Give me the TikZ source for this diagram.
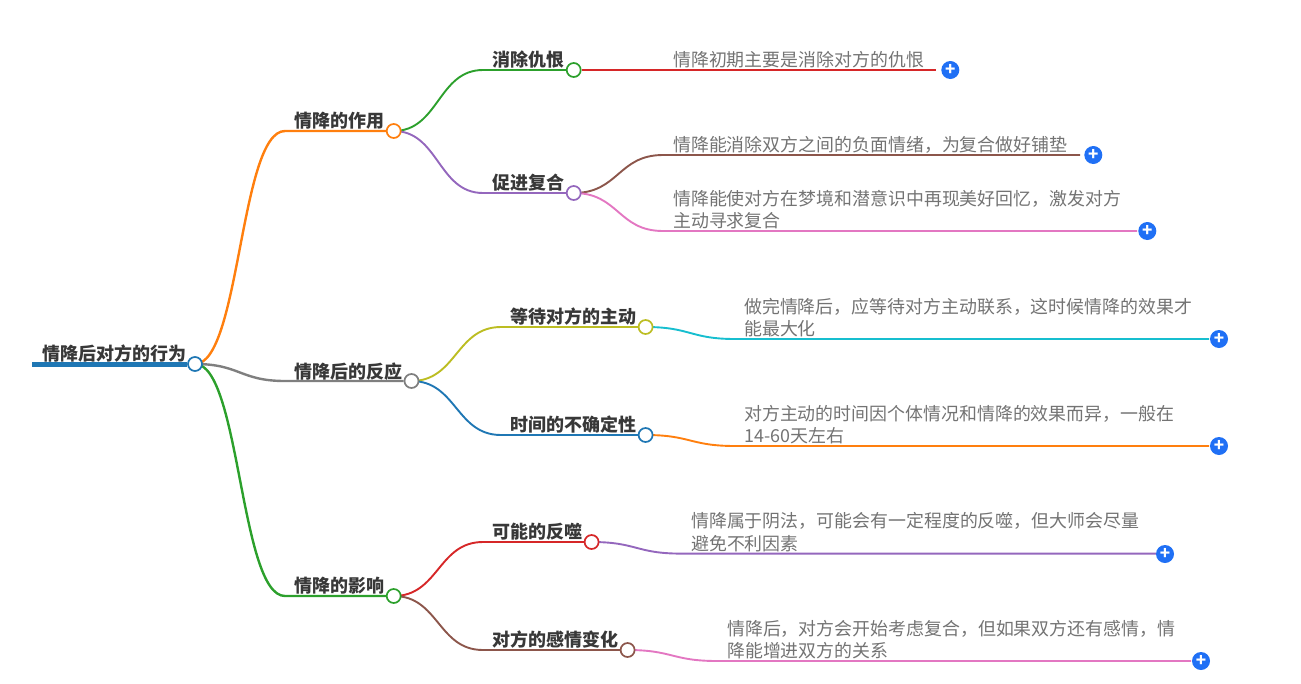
\documentclass[tikz,border=0pt]{standalone}
\usepackage{fontspec}
\usetikzlibrary{backgrounds}
\setmainfont{Noto Sans CJK SC}
\definecolor{mblue}{HTML}{1F77B4}
\definecolor{morange}{HTML}{FF7F0E}
\definecolor{mgreen}{HTML}{2CA02C}
\definecolor{mred}{HTML}{D62728}
\definecolor{mpurple}{HTML}{9467BD}
\definecolor{mbrown}{HTML}{8C564B}
\definecolor{mpink}{HTML}{E377C2}
\definecolor{mgray}{HTML}{7F7F7F}
\definecolor{molive}{HTML}{BCBD22}
\definecolor{mcyan}{HTML}{17BECF}
\definecolor{btnblue}{HTML}{2070F5}
\tikzset{
	dot/.style={circle,draw=#1,fill=white,line width=1.7pt,minimum size=14pt,inner sep=0pt},
	topic/.style={anchor=base west,inner sep=0pt,font=\fontsize{18}{18}\selectfont\bfseries,text=black!78},
	leaf/.style={anchor=south west,inner sep=0pt,align=left,font=\fontsize{17.92}{22.5}\selectfont,text=black!55},
	btn/.style={circle,fill=btnblue,minimum size=18pt,inner sep=0pt,text=white,font=\fontsize{17}{17}\selectfont\bfseries},
	link/.style={line width=2.4pt},
	twig/.style={line width=1.9pt}
}
\begin{document}
\begin{tikzpicture}[x=1pt,y=-1pt]
		\useasboundingbox (0,0) rectangle (1301,683);
		\coordinate (start) at (32,364);
		\node[dot=mblue] (root) at (195,364) {};
		\node[dot=morange] (role) at (393.7,131) {};
		\node[dot=mgray] (react) at (411.5,381) {};
		\node[dot=mgreen] (effect) at (393.7,596) {};
		\node[dot=mgreen] (hate) at (573.7,70) {};
		\node[dot=mpurple] (reunion) at (573.7,193) {};
		\node[dot=molive] (wait) at (645.6,327) {};
		\node[dot=mblue] (time) at (645.6,435) {};
		\node[dot=mred] (backlash) at (591.6,542) {};
		\node[dot=mbrown] (feeling) at (627.6,650) {};
		\coordinate (roleb) at (285,131);
		\coordinate (reactb) at (285,381);
		\coordinate (effectb) at (285,596);
		\coordinate (hateb) at (483,70);
		\coordinate (reunionb) at (483,193);
		\coordinate (waitb) at (501,327);
		\coordinate (timeb) at (501,435);
		\coordinate (backlashb) at (483,542);
		\coordinate (feelingb) at (483,650);
		\coordinate (tae) at (936,70);
		\coordinate (tb) at (663,155);
		\coordinate (tbe) at (1080,155);
		\coordinate (tc) at (663,231);
		\coordinate (tce) at (1137,231);
		\coordinate (td) at (735,339);
		\coordinate (tde) at (1209,339);
		\coordinate (te) at (735,446);
		\coordinate (tee) at (1209,446);
		\coordinate (tf) at (681,553.6);
		\coordinate (tfe) at (1156,553.6);
		\coordinate (tg) at (717,661);
		\coordinate (tge) at (1191,661);
		\node[topic] (roottext) at (42,360.5) {情降后对方的行为};
		\node[topic] (roletext) at (294,127.5) {情降的作用};
		\node[topic] (reacttext) at (294,378) {情降后的反应};
		\node[topic] (effecttext) at (294,592) {情降的影响};
		\node[topic] (hatetext) at (492,66.5) {消除仇恨};
		\node[topic] (reuniontext) at (492,189.5) {促进复合};
		\node[topic] (waittext) at (510,323.5) {等待对方的主动};
		\node[topic] (timetext) at (510,431.5) {时间的不确定性};
		\node[topic] (backlashtext) at (492,538.5) {可能的反噬};
		\node[topic] (feelingtext) at (492,646.5) {对方的感情变化};
		\node[leaf] (la) at (673,68.5) {情降初期主要是消除对方的仇恨};
		\node[leaf] (lb) at (673,153.5) {情降能消除双方之间的负面情绪，为复合做好铺垫};
		\node[leaf] (lc) at (673,229.5) {情降能使对方在梦境和潜意识中再现美好回忆，激发对方\\主动寻求复合};
		\node[leaf] (ld) at (744,337.5) {做完情降后，应等待对方主动联系，这时候情降的效果才\\能最大化};
		\node[leaf] (le) at (744,444.5) {对方主动的时间因个体情况和情降的效果而异，一般在\\14-60天左右};
		\node[leaf] (lf) at (691,552) {情降属于阴法，可能会有一定程度的反噬，但大师会尽量\\避免不利因素};
		\node[leaf] (lg) at (727,659.5) {情降后，对方会开始考虑复合，但如果双方还有感情，情\\降能增进双方的关系};
		\node[btn] (pa) at (950.3,70) {+};
		\node[btn] (pb) at (1093.3,155) {+};
		\node[btn] (pc) at (1147.3,231) {+};
		\node[btn] (pd) at (1219,339) {+};
		\node[btn] (pe) at (1219,446) {+};
		\node[btn] (pf) at (1165,554) {+};
		\node[btn] (pg) at (1201,661) {+};
		\begin{scope}[on background layer]
			\draw[line width=5pt,mblue] (start) -- (root);
			\draw[link,morange] (root.center) .. controls +(45,0) and +(-45,0) .. (roleb) -- (role);
			\draw[link,mgray] (root.center) .. controls +(45,0) and +(-45,0) .. (reactb) -- (react);
			\draw[link,mgreen] (root.center) .. controls +(45,0) and +(-45,0) .. (effectb) -- (effect);
			\draw[twig,mgreen] (role.center) .. controls +(45,0) and +(-45,0) .. (hateb) -- (hate);
			\draw[twig,mpurple] (role.center) .. controls +(45,0) and +(-45,0) .. (reunionb) -- (reunion);
			\draw[twig,molive] (react.center) .. controls +(45,0) and +(-45,0) .. (waitb) -- (wait);
			\draw[twig,mblue] (react.center) .. controls +(45,0) and +(-45,0) .. (timeb) -- (time);
			\draw[twig,mred] (effect.center) .. controls +(45,0) and +(-45,0) .. (backlashb) -- (backlash);
			\draw[twig,mbrown] (effect.center) .. controls +(45,0) and +(-45,0) .. (feelingb) -- (feeling);
			\draw[twig,mred] (hate) -- (tae);
			\draw[twig,mbrown] (reunion.center) .. controls +(45,0) and +(-45,0) .. (tb) -- (tbe);
			\draw[twig,mpink] (reunion.center) .. controls +(45,0) and +(-45,0) .. (tc) -- (tce);
			\draw[twig,mcyan] (wait.center) .. controls +(45,0) and +(-45,0) .. (td) -- (tde);
			\draw[twig,morange] (time.center) .. controls +(45,0) and +(-45,0) .. (te) -- (tee);
			\draw[twig,mpurple] (backlash.center) .. controls +(45,0) and +(-45,0) .. (tf) -- (tfe);
			\draw[twig,mpink] (feeling.center) .. controls +(45,0) and +(-45,0) .. (tg) -- (tge);
		\end{scope}
	\end{tikzpicture}
\end{document}
